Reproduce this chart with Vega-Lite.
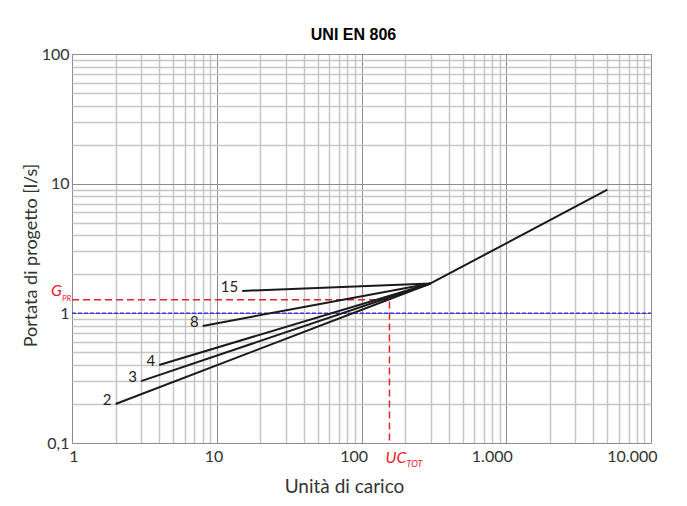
{
  "$schema": "https://vega.github.io/schema/vega-lite/v6.json",
  "width": 579,
  "height": 389,
  "autosize": {"type": "none"},
  "padding": {"left": 72, "top": 54, "right": 36, "bottom": 63},
  "background": "white",
  "config": {"view": {"stroke": null}, "font": "Lato"},
  "title": {"text": "UNI EN 806", "font": "Liberation Sans", "fontSize": 16, "fontWeight": "bold", "color": "#000000", "anchor": "middle", "dx": -8, "dy": 22, "offset": 12, "baseline": "alphabetic"},
  "encoding": {
    "x": {
      "field": "x", "type": "quantitative",
      "scale": {"type": "log", "domain": [1, 10000], "nice": false},
      "axis": {
        "values": [1,2,3,4,5,6,7,8,9,10,20,30,40,50,60,70,80,90,100,200,300,400,500,600,700,800,900,1000,2000,3000,4000,5000,6000,7000,8000,9000,10000],
        "labelExpr": "indexof([1,10,100,1000,10000], datum.value) >= 0 ? replace(format(datum.value, ','), ',', '.') : ''",
        "grid": true,
        "gridColor": {"condition": {"test": "indexof([1,10,100,1000,10000], datum.value) >= 0", "value": "#8c8c8c"}, "value": "#c6c6c6"},
        "gridWidth": {"condition": {"test": "indexof([1,10,100,1000,10000], datum.value) >= 0", "value": 1}, "value": 1.5},
        "ticks": false, "domain": false,
        "labelFont": "Lato", "labelFontSize": 16, "labelColor": "#333333", "labelAlign": "right", "labelOffset": 6, "labelPadding": 5,
        "labelOverlap": false, "labelFlush": false, "labelBound": false,
        "title": "Unità di carico", "titleFont": "Lato", "titleFontSize": 19, "titleFontWeight": "normal", "titleColor": "#333333",
        "titleX": 272, "titleY": 49, "titleAlign": "center", "titleBaseline": "alphabetic"
      }
    },
    "y": {
      "field": "y", "type": "quantitative",
      "scale": {"type": "log", "domain": [0.1, 100], "nice": false},
      "axis": {
        "values": [0.1,0.2,0.3,0.4,0.5,0.6,0.7,0.8,0.9,1,2,3,4,5,6,7,8,9,10,20,30,40,50,60,70,80,90,100],
        "labelExpr": "datum.value == 0.1 ? '0,1' : (indexof([1,10,100], datum.value) >= 0 ? format(datum.value, 'd') : '')",
        "grid": true,
        "gridColor": {"condition": {"test": "indexof([0.1,1,10,100], datum.value) >= 0", "value": "#8c8c8c"}, "value": "#c6c6c6"},
        "gridWidth": {"condition": {"test": "indexof([0.1,1,10,100], datum.value) >= 0", "value": 1}, "value": 1.5},
        "ticks": false, "domain": false,
        "labelFont": "Lato", "labelFontSize": 16, "labelColor": "#333333", "labelPadding": 3, "labelBaseline": "middle",
        "labelOverlap": false, "labelFlush": false, "labelBound": false,
        "title": "Portata di progetto [l/s]", "titleFont": "Lato", "titleFontSize": 18, "titleFontWeight": "normal", "titleColor": "#333333",
        "titleAngle": -90, "titleX": -36, "titleY": 201, "titleAlign": "center", "titleBaseline": "alphabetic"
      }
    }
  },
  "layer": [
    {
      "data": {"values": [{"x": 1, "x2": 10000, "y": 1}]},
      "mark": {"type": "rule", "color": "#3434e8", "strokeWidth": 1.5, "strokeDash": [4, 2]},
      "encoding": {"x2": {"field": "x2"}}
    },
    {
      "data": {"values": [
        {"x": 1, "y": 1.27, "o": 1},
        {"x": 156, "y": 1.27, "o": 2},
        {"x": 156, "y": 0.1, "o": 3}
      ]},
      "mark": {"type": "line", "color": "#e8212b", "strokeWidth": 1.5, "strokeDash": [7, 4]},
      "encoding": {"order": {"field": "o", "type": "quantitative"}}
    },
    {
      "data": {"values": [
        {"s": "common", "x": 300, "y": 1.7, "o": 1},
        {"s": "common", "x": 5000, "y": 9.0, "o": 2},
        {"s": "2", "x": 2, "y": 0.2, "o": 1},
        {"s": "2", "x": 300, "y": 1.7, "o": 2},
        {"s": "3", "x": 3, "y": 0.3, "o": 1},
        {"s": "3", "x": 300, "y": 1.7, "o": 2},
        {"s": "4", "x": 4, "y": 0.4, "o": 1},
        {"s": "4", "x": 300, "y": 1.7, "o": 2},
        {"s": "8", "x": 8, "y": 0.8, "o": 1},
        {"s": "8", "x": 300, "y": 1.7, "o": 2},
        {"s": "15", "x": 15, "y": 1.49, "o": 1},
        {"s": "15", "x": 300, "y": 1.7, "o": 2}
      ]},
      "mark": {"type": "line", "color": "#1a1a1a", "strokeWidth": 2},
      "encoding": {"detail": {"field": "s"}, "order": {"field": "o", "type": "quantitative"}}
    },
    {
      "data": {"values": [
        {"x": 2, "y": 0.2, "label": "2"},
        {"x": 3, "y": 0.3, "label": "3"},
        {"x": 4, "y": 0.4, "label": "4"},
        {"x": 8, "y": 0.8, "label": "8"},
        {"x": 15, "y": 1.49, "label": "15"}
      ]},
      "mark": {"type": "text", "align": "right", "baseline": "alphabetic", "dx": -4, "dy": 1, "font": "Lato", "fontSize": 15, "color": "#222222"},
      "encoding": {"text": {"field": "label"}}
    },
    {
      "data": {"values": [{"x": 1, "y": 1.27, "t": "G"}]},
      "mark": {"type": "text", "align": "left", "baseline": "alphabetic", "dx": -21, "dy": -4, "font": "Lato", "fontSize": 16, "fontStyle": "italic", "color": "#e8212b"},
      "encoding": {"text": {"field": "t"}}
    },
    {
      "data": {"values": [{"x": 1, "y": 1.27, "t": "PR"}]},
      "mark": {"type": "text", "align": "left", "baseline": "alphabetic", "dx": -10, "dy": 1, "font": "Lato", "fontSize": 8, "fontStyle": "italic", "color": "#e8212b"},
      "encoding": {"text": {"field": "t"}}
    },
    {
      "data": {"values": [{"x": 156, "y": 0.1, "t": "UC"}]},
      "mark": {"type": "text", "align": "left", "baseline": "alphabetic", "dx": -4, "dy": 20, "font": "Lato", "fontSize": 16, "fontStyle": "italic", "color": "#e8212b"},
      "encoding": {"text": {"field": "t"}}
    },
    {
      "data": {"values": [{"x": 156, "y": 0.1, "t": "TOT"}]},
      "mark": {"type": "text", "align": "left", "baseline": "alphabetic", "dx": 17, "dy": 24, "font": "Lato", "fontSize": 9, "fontStyle": "italic", "color": "#e8212b"},
      "encoding": {"text": {"field": "t"}}
    }
  ]
}
